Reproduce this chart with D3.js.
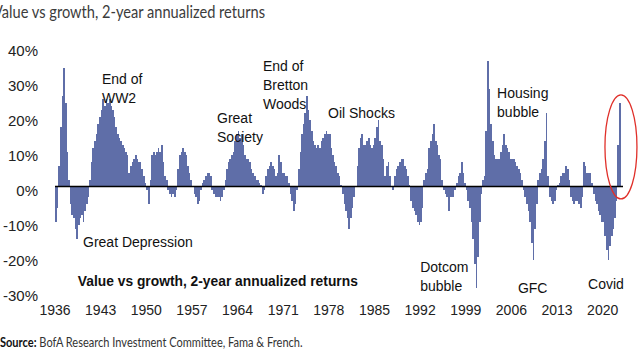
<!DOCTYPE html>
<html><head><meta charset="utf-8">
<script src="https://cdn.jsdelivr.net/npm/d3@7"></script>
<style>body{margin:0;background:#fff;} svg{display:block;font-family:"Liberation Sans",Arial,sans-serif;}</style>
</head><body><svg id="c" width="640" height="360"></svg>
<script>
// Quarterly 2-year annualized return of value vs growth (%), starting Q1 1936
const startYear = 1936;
const quarterlyReturns = [
 -10,-6,6,17,  26,34,24,10,  2,-5,-8,-9,  -12,-15,-11,-9,  -8,-10,-7,-5,
 -3,2,7,11,  13,15,18,20,  22,25,23,25,  24,25,23,22,  20,17,15,14,
 13,12,11,10,  9,4,6,7,  8,9,8,7,  7,5,3,1,  -1,-5,2,9,
 10,9,10,11,  10,12,7,3,  2,-1,-2,-3,  -2,-3,-1,5,  9,10,11,10,
 9,6,4,2,  0,-2,-3,-5,  -4,-1,1,2,  3,4,4,3,  -1,-2,-3,-3,
 -3,-4,-3,-1,  2,5,7,8,  9,10,13,15,  16,14,15,12,  9,8,8,7,
 5,4,3,2,  2,1,0.5,-2,  -1,3,5,6,  7,6,5,3,  4,9,7,4,
 4,3,3,1,  -2,-4,-7,-5,  -1,5,10,15,  18,21,26,22,  19,16,13,12,
 11,12,11,13,  14,15,16,15,  15,11,9,7,  6,4,3,0.5,  -2,-5,-7,-9,
 -12,-9,-6,-3,  0,6,11,14,  15,12,12,13,  14,12,11,12,  14,17,19,13,
 12,8,3,6,  7,3,0,-1,  3,5,6,7,  8,8,6,5,  3,0.5,-4,-6,
 -7,-8,-10,-11,  -10,-6,2,4,  5,11,13,15,  18,13,12,9,  8,2,-1,-2,
 -3,-7,-3,-3,  -3,-1,1,3,  4,7,4,1,  -1,-4,-6,-10,  -15,-22,-29,-20,
 -10,-2,2,3,  16,36,28,18,  13,9,8,8,  8,10,12,15,  12,11,10,8,
 8,8,7,6,  5,4,2,-1,  -3,-5,-7,-10,  -16,-21,-12,-5,  2,4,5,8,
 13,21,3,-3,  -4,-5,-4,-1,  0.5,1,3,4,  4,6,5,2,  -3,-4,-5,-4,
 -4,-5,-6,-3,  7,6,4,4,  4,1,-2,-4,  -5,-7,-8,-10,  -10,-14,-18,-21,
 -17,-14,-12,-9,  -4,12,24
];
const yTicks = [40,30,20,10,0,-10,-20,-30];
const xTickYears = [1936,1943,1950,1957,1964,1971,1978,1985,1992,1999,2006,2013,2020];
const annotationLines = [
  ["End of","WW2"], ["Great Depression"], ["Great","Society"], ["End of","Bretton","Woods"],
  ["Oil Shocks"], ["Housing","bubble"], ["Dotcom","bubble"], ["GFC"], ["Covid"]
];
const annotationYears  = [1943.2, 1940.3, 1960.85, 1967.9, 1977.87, 2003.8, 1992.0, 2007.0, 2017.75];
const annotationValues = [29.3, -17.3, 18.1, 33.1, 19.6, 25.3, -24.4, -30.4, -29.3];
const title = "Value vs growth, 2-year annualized returns";
const innerTitle = "Value vs growth, 2-year annualized returns";
const sourceLabel = "Source:";
const sourceText = " BofA Research Investment Committee, Fama & French.";

const svg = d3.select("#c");
const x = d3.scaleLinear().domain([1936, 2020]).range([55, 602.7]);
const y = d3.scaleLinear().domain([-30, 40]).range([291.5, 46.5]);
const data = quarterlyReturns.map((v,i)=>({t: startYear + i/4, v}));
const step = x(startYear + 0.25) - x(startYear);

// top title (clipped at left edge)
svg.append("text").attr("x",-7).attr("y",18).attr("font-family","Lato, 'Open Sans', sans-serif")
  .attr("font-size",17).attr("fill","#3c3c3c").attr("textLength",272).attr("lengthAdjust","spacingAndGlyphs")
  .text(title);

// bars
svg.append("g").attr("shape-rendering","crispEdges").selectAll("rect").data(data).join("rect")
  .attr("x", d=>x(d.t))
  .attr("width", step+0.1)
  .attr("y", d=>y(Math.max(0,d.v)))
  .attr("height", d=>Math.abs(y(d.v)-y(0)))
  .attr("fill","#5f6ea8");

// zero line
svg.append("line").attr("x1",x(1936)).attr("x2",623).attr("y1",y(0)).attr("y2",y(0))
  .attr("stroke","#000").attr("stroke-width",1.5);

// y labels
svg.append("g").selectAll("text").data(yTicks).join("text")
  .attr("x",38).attr("y",d=>y(d)+9.5).attr("text-anchor","end")
  .attr("font-size",15).attr("fill","#222").text(d=>d+"%");

// x labels
svg.append("g").selectAll("text").data(xTickYears).join("text")
  .attr("x",d=>x(d)).attr("y",314.5).attr("text-anchor","middle")
  .attr("font-size",14).attr("fill","#222").text(d=>d);

// annotations
annotationLines.forEach((lines,i)=>{
  const t = svg.append("text").attr("x",x(annotationYears[i])).attr("y",y(annotationValues[i]))
    .attr("font-size",14).attr("fill","#111");
  lines.forEach((l,j)=>t.append("tspan").attr("x",x(annotationYears[i])).attr("dy", j===0?0:19).text(l));
});

// inner bold title
svg.append("text").attr("x",x(1939.5)).attr("y",y(-28.4)).attr("font-size",15).attr("font-weight","bold")
  .attr("fill","#111").attr("textLength",280).attr("lengthAdjust","spacingAndGlyphs").text(innerTitle);

// red ellipse
svg.append("ellipse").attr("cx",x(2022.8)).attr("cy",y(11.3)).attr("rx",16).attr("ry",52)
  .attr("fill","none").attr("stroke","#e0302a").attr("stroke-width",1.3);

// source
const s = svg.append("g").attr("transform","translate(0,347) scale(0.85,1)")
  .append("text").attr("x",0).attr("y",0).attr("font-family","Lato, 'Open Sans', sans-serif")
  .attr("font-size",13).attr("fill","#333");
s.append("tspan").attr("font-weight","bold").attr("fill","#111").text(sourceLabel);
s.append("tspan").text(sourceText);
</script></body></html>
